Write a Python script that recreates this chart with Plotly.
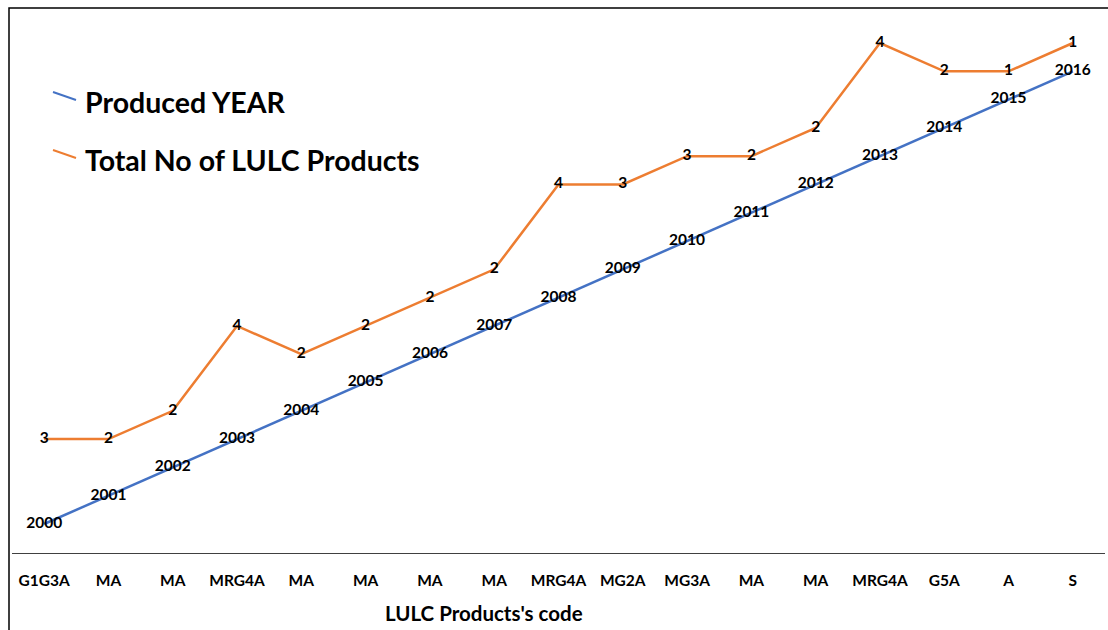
import plotly.graph_objects as go

codes = ["G1G3A", "MA", "MA", "MRG4A", "MA", "MA", "MA", "MA", "MRG4A",
         "MG2A", "MG3A", "MA", "MA", "MRG4A", "G5A", "A", "S"]
years = [2000, 2001, 2002, 2003, 2004, 2005, 2006, 2007, 2008,
         2009, 2010, 2011, 2012, 2013, 2014, 2015, 2016]
counts = [3, 2, 2, 4, 2, 2, 2, 2, 4, 3, 3, 2, 2, 4, 2, 1, 1]

# stacked line chart (as in the original spreadsheet): second series sits on top of the first
stacked = [y + c for y, c in zip(years, counts)]
xs = list(range(len(codes)))

W, H = 1108, 630
L, R, T, B = 12, 3, 13, 77
pw, ph = W - L - R, H - T - B

def px(x):
    return (x - L) / pw

def py(y):
    return (H - B - y) / ph

BLUE = "#4472C4"
ORANGE = "#ED7D31"
FONT = "Lato"

fig = go.Figure()
fig.add_trace(go.Scatter(
    x=xs, y=years, mode="lines+text", name="Produced YEAR",
    line=dict(color=BLUE, width=2.5),
    text=[str(v) for v in years], textposition="middle center",
    textfont=dict(family=FONT, size=15.5, color="black", weight="bold"),
    showlegend=False, cliponaxis=False))
fig.add_trace(go.Scatter(
    x=xs, y=stacked, mode="lines+text", name="Total No of LULC Products",
    line=dict(color=ORANGE, width=2.5),
    text=[str(v) for v in counts], textposition="middle center",
    textfont=dict(family=FONT, size=15.5, color="black", weight="bold"),
    showlegend=False, cliponaxis=False))

shapes = [
    # outer frame
    dict(type="rect", xref="paper", yref="paper",
         x0=px(9), x1=px(1120), y0=py(660), y1=py(8),
         line=dict(color="black", width=1.5)),
    # legend samples
    dict(type="line", xref="paper", yref="paper",
         x0=px(53), y0=py(92), x1=px(76), y1=py(100),
         line=dict(color=BLUE, width=2)),
    dict(type="line", xref="paper", yref="paper",
         x0=px(53), y0=py(150), x1=px(76), y1=py(158),
         line=dict(color=ORANGE, width=2)),
]

annotations = [
    dict(text="Produced YEAR", xref="paper", yref="paper", x=px(83), y=py(102),
         xanchor="left", yanchor="middle", showarrow=False,
         font=dict(family=FONT, size=28.5, color="black", weight="bold")),
    dict(text="Total No of LULC Products", xref="paper", yref="paper", x=px(83), y=py(160),
         xanchor="left", yanchor="middle", showarrow=False,
         font=dict(family=FONT, size=28.5, color="black", weight="bold")),
    dict(text="LULC Products's code", xref="paper", yref="paper", x=px(484), y=py(613),
         xanchor="center", yanchor="middle", showarrow=False,
         font=dict(family=FONT, size=20.5, color="black", weight="bold")),
]

fig.update_layout(
    width=W, height=H,
    margin=dict(l=L, r=R, t=T, b=B),
    paper_bgcolor="white", plot_bgcolor="white",
    shapes=shapes, annotations=annotations,
    xaxis=dict(range=[-0.5, len(codes) - 0.5], tickvals=xs, ticktext=codes,
               showgrid=False, zeroline=False, showline=True,
               linecolor="#404040", linewidth=1.2, ticks="",
               tickfont=dict(family=FONT, size=15.5, color="black", weight="bold"),
               ticklabelstandoff=13),
    yaxis=dict(range=[1998.975, 2018.06], visible=False, showgrid=False),
)

fig.write_html("out.html",
               config={"displayModeBar": False},
               post_script="document.body.style.margin='0';document.body.style.overflow='hidden';")
